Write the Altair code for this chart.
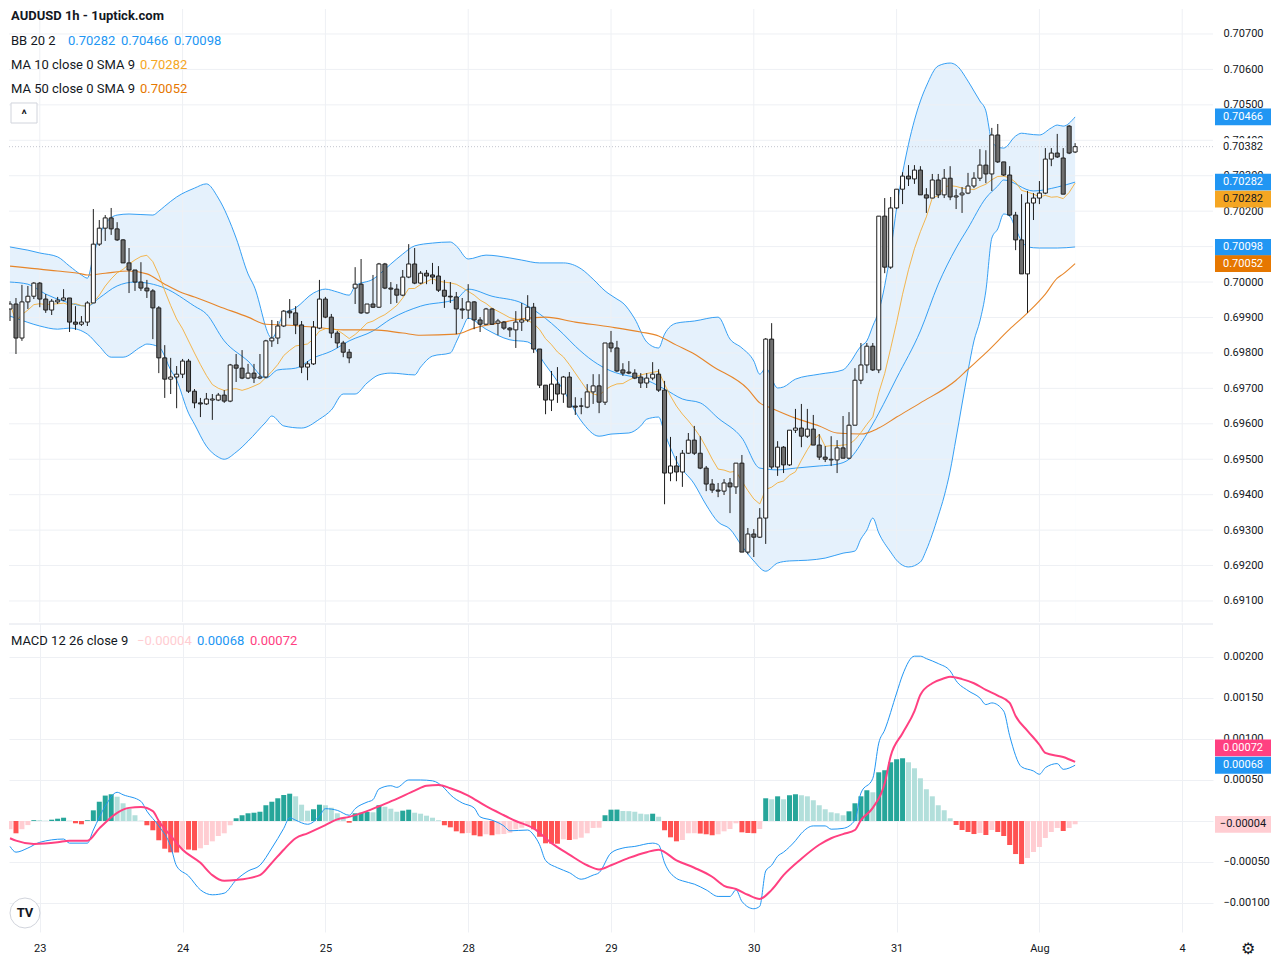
import altair as alt
import numpy as np
import pandas as pd

FONT = "Roboto"
TXT = "#131722"
GRID = "#eef0f4"
BLUE = "#2196f3"
PINK = "#ff4081"
MA10_COLOR = "#f5a623"
MA50_COLOR = "#e6801f"

W, H1, H2 = 1204, 613, 308
X_DOMAIN = [-4.333, 196.333]
PRICE_DOMAIN = [0.690407, 0.707705]
MACD_DOMAIN = [-0.0013537, 0.0024024]

# ---------------- data (hourly bars, index 0 = 23 Jul 00:00) ----------------
first_bar = -5
opens = [
    0.69924, 0.69938, 0.69842, 0.69944, 0.69960, 0.69997, 0.69952, 0.69921, 0.69944, 0.69949,
    0.69955, 0.69887, 0.69881, 0.69887, 0.69941, 0.70107, 0.70152, 0.70181, 0.70150, 0.70119,
    0.70054, 0.70034, 0.70000, 0.69983, 0.69975, 0.69927, 0.69786, 0.69726, 0.69732, 0.69740,
    0.69777, 0.69692, 0.69659, 0.69656, 0.69667, 0.69667, 0.69681, 0.69664, 0.69766, 0.69757,
    0.69729, 0.69743, 0.69729, 0.69732, 0.69834, 0.69842, 0.69876, 0.69918, 0.69913, 0.69879,
    0.69760, 0.69769, 0.69870, 0.69952, 0.69901, 0.69856, 0.69828, 0.69802, 0.69983, 0.69994,
    0.69913, 0.69938, 0.69929, 0.70051, 0.69983, 0.69980, 0.69963, 0.70014, 0.70051, 0.69997,
    0.70025, 0.70020, 0.70017, 0.69977, 0.69960, 0.69958, 0.69924, 0.69921, 0.69944, 0.69893,
    0.69881, 0.69924, 0.69884, 0.69887, 0.69870, 0.69865, 0.69887, 0.69893, 0.69929, 0.69811,
    0.69709, 0.69667, 0.69712, 0.69684, 0.69732, 0.69650, 0.69650, 0.69647, 0.69690, 0.69707,
    0.69661, 0.69828, 0.69814, 0.69752, 0.69746, 0.69743, 0.69732, 0.69715, 0.69729, 0.69740,
    0.69695, 0.69461, 0.69481, 0.69464, 0.69517, 0.69554, 0.69517, 0.69475, 0.69430, 0.69413,
    0.69410, 0.69433, 0.69422, 0.69489, 0.69238, 0.69289, 0.69280, 0.69334, 0.69839, 0.69478,
    0.69534, 0.69484, 0.69582, 0.69588, 0.69565, 0.69585, 0.69540, 0.69506, 0.69498, 0.69498,
    0.69532, 0.69503, 0.69596, 0.69723, 0.69766, 0.69819, 0.69752, 0.70186, 0.70042, 0.70209,
    0.70262, 0.70299, 0.70291, 0.70316, 0.70246, 0.70237, 0.70288, 0.70246, 0.70293, 0.70240,
    0.70246, 0.70251, 0.70271, 0.70293, 0.70330, 0.70305, 0.70415, 0.70339, 0.70302, 0.70189,
    0.70119, 0.70023, 0.70223, 0.70237, 0.70251, 0.70347, 0.70364, 0.70350, 0.70440, 0.70367,
]
highs = [
    0.69946, 0.69955, 0.69992, 0.69989, 0.70000, 0.70000, 0.69966, 0.69952, 0.69958, 0.69980,
    0.69955, 0.69932, 0.69904, 0.69946, 0.70206, 0.70175, 0.70189, 0.70209, 0.70169, 0.70121,
    0.70096, 0.70034, 0.70056, 0.70006, 0.69980, 0.69932, 0.69822, 0.69786, 0.69763, 0.69783,
    0.69783, 0.69698, 0.69673, 0.69687, 0.69684, 0.69687, 0.69695, 0.69769, 0.69797, 0.69808,
    0.69769, 0.69769, 0.69797, 0.69837, 0.69893, 0.69890, 0.69921, 0.69952, 0.69932, 0.69890,
    0.69777, 0.69890, 0.70006, 0.69958, 0.69910, 0.69862, 0.69834, 0.69811, 0.70042, 0.70065,
    0.69938, 0.70020, 0.70054, 0.70054, 0.70000, 0.69994, 0.70034, 0.70107, 0.70096, 0.70031,
    0.70034, 0.70054, 0.70045, 0.70006, 0.70000, 0.69972, 0.69955, 0.69994, 0.69946, 0.69901,
    0.69927, 0.69927, 0.69896, 0.69890, 0.69873, 0.69918, 0.69941, 0.69963, 0.69941, 0.69811,
    0.69709, 0.69749, 0.69760, 0.69735, 0.69746, 0.69675, 0.69673, 0.69712, 0.69740, 0.69740,
    0.69828, 0.69862, 0.69834, 0.69771, 0.69777, 0.69754, 0.69743, 0.69743, 0.69774, 0.69754,
    0.69721, 0.69563, 0.69509, 0.69526, 0.69574, 0.69594, 0.69565, 0.69481, 0.69444, 0.69433,
    0.69444, 0.69447, 0.69489, 0.69512, 0.69306, 0.69303, 0.69362, 0.69842, 0.69884, 0.69551,
    0.69537, 0.69582, 0.69642, 0.69656, 0.69642, 0.69625, 0.69571, 0.69537, 0.69565, 0.69554,
    0.69622, 0.69633, 0.69757, 0.69828, 0.69828, 0.69828, 0.70186, 0.70237, 0.70240, 0.70262,
    0.70310, 0.70330, 0.70330, 0.70327, 0.70265, 0.70305, 0.70305, 0.70319, 0.70327, 0.70262,
    0.70268, 0.70308, 0.70310, 0.70375, 0.70372, 0.70435, 0.70446, 0.70339, 0.70327, 0.70198,
    0.70248, 0.70257, 0.70251, 0.70285, 0.70378, 0.70378, 0.70418, 0.70378, 0.70443, 0.70392,
]
lows = [
    0.69890, 0.69797, 0.69834, 0.69924, 0.69952, 0.69929, 0.69913, 0.69907, 0.69938, 0.69946,
    0.69859, 0.69865, 0.69876, 0.69876, 0.69941, 0.70102, 0.70116, 0.70133, 0.70116, 0.70054,
    0.69969, 0.69975, 0.69975, 0.69955, 0.69839, 0.69743, 0.69673, 0.69684, 0.69644, 0.69729,
    0.69687, 0.69644, 0.69619, 0.69653, 0.69611, 0.69664, 0.69659, 0.69661, 0.69718, 0.69726,
    0.69726, 0.69715, 0.69726, 0.69729, 0.69817, 0.69825, 0.69873, 0.69898, 0.69853, 0.69743,
    0.69723, 0.69766, 0.69867, 0.69898, 0.69842, 0.69814, 0.69788, 0.69771, 0.69938, 0.69910,
    0.69910, 0.69927, 0.69927, 0.69980, 0.69938, 0.69941, 0.69960, 0.70011, 0.69994, 0.69994,
    0.69994, 0.69994, 0.69972, 0.69927, 0.69941, 0.69853, 0.69896, 0.69896, 0.69867, 0.69859,
    0.69879, 0.69879, 0.69850, 0.69865, 0.69845, 0.69814, 0.69862, 0.69887, 0.69800, 0.69701,
    0.69627, 0.69636, 0.69659, 0.69659, 0.69647, 0.69625, 0.69627, 0.69644, 0.69656, 0.69630,
    0.69653, 0.69802, 0.69746, 0.69735, 0.69740, 0.69726, 0.69701, 0.69701, 0.69723, 0.69690,
    0.69373, 0.69438, 0.69438, 0.69422, 0.69515, 0.69512, 0.69472, 0.69410, 0.69405, 0.69393,
    0.69399, 0.69348, 0.69402, 0.69238, 0.69232, 0.69224, 0.69278, 0.69261, 0.69472, 0.69453,
    0.69461, 0.69481, 0.69574, 0.69534, 0.69560, 0.69540, 0.69498, 0.69492, 0.69481, 0.69461,
    0.69503, 0.69500, 0.69596, 0.69712, 0.69743, 0.69749, 0.69743, 0.70025, 0.70037, 0.70206,
    0.70220, 0.70271, 0.70277, 0.70246, 0.70195, 0.70237, 0.70237, 0.70237, 0.70231, 0.70206,
    0.70195, 0.70248, 0.70265, 0.70285, 0.70279, 0.70257, 0.70336, 0.70299, 0.70186, 0.70090,
    0.70023, 0.69913, 0.70175, 0.70220, 0.70248, 0.70327, 0.70350, 0.70248, 0.70361, 0.70364,
]
closes = [
    0.69938, 0.69842, 0.69944, 0.69960, 0.69997, 0.69952, 0.69921, 0.69946, 0.69949, 0.69955,
    0.69887, 0.69881, 0.69887, 0.69941, 0.70107, 0.70152, 0.70181, 0.70150, 0.70119, 0.70054,
    0.70034, 0.70000, 0.69983, 0.69975, 0.69927, 0.69786, 0.69726, 0.69732, 0.69740, 0.69777,
    0.69692, 0.69659, 0.69656, 0.69670, 0.69670, 0.69681, 0.69664, 0.69766, 0.69757, 0.69729,
    0.69743, 0.69729, 0.69732, 0.69834, 0.69842, 0.69876, 0.69918, 0.69913, 0.69879, 0.69760,
    0.69769, 0.69873, 0.69952, 0.69901, 0.69856, 0.69828, 0.69802, 0.69786, 0.69994, 0.69913,
    0.69938, 0.69929, 0.70051, 0.69983, 0.69980, 0.69963, 0.70014, 0.70051, 0.69997, 0.70025,
    0.70017, 0.70014, 0.69977, 0.69960, 0.69958, 0.69924, 0.69921, 0.69944, 0.69893, 0.69881,
    0.69924, 0.69881, 0.69890, 0.69870, 0.69865, 0.69887, 0.69893, 0.69929, 0.69811, 0.69709,
    0.69667, 0.69712, 0.69684, 0.69732, 0.69647, 0.69647, 0.69650, 0.69690, 0.69707, 0.69661,
    0.69828, 0.69814, 0.69749, 0.69743, 0.69743, 0.69729, 0.69715, 0.69729, 0.69740, 0.69695,
    0.69461, 0.69481, 0.69464, 0.69517, 0.69554, 0.69517, 0.69475, 0.69430, 0.69413, 0.69410,
    0.69433, 0.69422, 0.69489, 0.69238, 0.69289, 0.69280, 0.69334, 0.69839, 0.69478, 0.69534,
    0.69484, 0.69582, 0.69588, 0.69565, 0.69585, 0.69540, 0.69506, 0.69500, 0.69500, 0.69532,
    0.69503, 0.69596, 0.69723, 0.69766, 0.69819, 0.69752, 0.70186, 0.70042, 0.70209, 0.70262,
    0.70299, 0.70291, 0.70316, 0.70246, 0.70237, 0.70288, 0.70246, 0.70293, 0.70240, 0.70243,
    0.70251, 0.70271, 0.70293, 0.70330, 0.70305, 0.70415, 0.70339, 0.70302, 0.70189, 0.70119,
    0.70023, 0.70223, 0.70237, 0.70251, 0.70347, 0.70364, 0.70353, 0.70248, 0.70364, 0.70382,
]
macd_hist = [
    -0.00010, -0.00015, -0.00010, -0.00005, 0.00001, 0.00001, 0.000004, 0.000016, 0.000028, 0.00004,
    0.000004, -0.000028, -0.00004, 0.000009, 0.00013, 0.000235, 0.00031, 0.000326, 0.000296, 0.000216,
    0.00015, 0.00007, 0.000004, -0.000052, -0.000113, -0.000235, -0.000338, -0.000382, -0.000384, -0.000345,
    -0.000348, -0.000357, -0.000333, -0.000293, -0.000248, -0.000183, -0.00015, -0.000052, 0.000033, 0.00007,
    0.000094, 0.000101, 0.000113, 0.000192, 0.000235, 0.000277, 0.000317, 0.000333, 0.000301, 0.000199,
    0.000126, 0.000143, 0.000199, 0.000192, 0.000162, 0.000094, 0.00004, -0.000021, 0.000094, 0.000101,
    0.00011, 0.000106, 0.000192, 0.000174, 0.00015, 0.000113, 0.000126, 0.000138, 0.000101, 0.000089,
    0.000065, 0.00004, 0.000009, -0.000052, -0.000077, -0.000126, -0.00015, -0.000146, -0.000174, -0.000187,
    -0.000162, -0.000174, -0.000162, -0.000159, -0.000143, -0.000101, -0.000082, -0.000052, -0.000101, -0.000192,
    -0.000272, -0.000275, -0.000277, -0.000223, -0.000232, -0.000223, -0.000204, -0.00015, -0.000085, -0.000082,
    0.00007, 0.000138, 0.000139, 0.000122, 0.00012, 0.000113, 0.000089, 0.000082, 0.000089, 0.000052,
    -0.000113, -0.000199, -0.000248, -0.000232, -0.00015, -0.000149, -0.000153, -0.000162, -0.000174, -0.000162,
    -0.000126, -0.000098, -0.000028, -0.000138, -0.000146, -0.000149, -0.000098, 0.000277, 0.000265, 0.000301,
    0.000265, 0.000314, 0.000326, 0.000314, 0.000301, 0.000253, 0.000192, 0.000143, 0.000106, 0.000094,
    0.00007, 0.000118, 0.000216, 0.000301, 0.000375, 0.00035, 0.000594, 0.000619, 0.000716, 0.000753,
    0.000765, 0.000716, 0.000643, 0.000521, 0.000387, 0.000301, 0.000192, 0.000131, 0.000033, -0.000049,
    -0.00011, -0.000134, -0.000159, -0.000146, -0.000171, -0.00011, -0.000134, -0.000183, -0.000293, -0.000403,
    -0.000525, -0.000451, -0.000378, -0.000317, -0.000207, -0.000134, -0.000085, -0.000122, -0.000085, -0.00004,
]

# indicator lines: (bar index, value)
bb_upper = [
    (-5, 0.70099), (-4, 0.70096), (-2, 0.70090), (0, 0.70082), (3, 0.70071), (5, 0.70045), (7, 0.70020),
    (8, 0.70011), (9, 0.70073), (10, 0.70130), (11, 0.70164), (13, 0.70189), (15, 0.70192), (19, 0.70189),
    (20, 0.70200), (21, 0.70214), (23, 0.70240), (26, 0.70265), (28, 0.70277), (30, 0.70237), (33, 0.70124),
    (35, 0.70023), (36, 0.69989), (39, 0.69842), (41, 0.69910), (43, 0.69927), (46, 0.69969), (48, 0.69980),
    (50, 0.69972), (52, 0.69963), (53, 0.69989), (56, 0.70008), (59, 0.70051), (61, 0.70079), (63, 0.70102),
    (66, 0.70110), (69, 0.70113), (70, 0.70102), (72, 0.70065), (75, 0.70076), (79, 0.70068), (81, 0.70062),
    (84, 0.70054), (88, 0.70054), (91, 0.70037), (93, 0.70008), (95, 0.69975), (97, 0.69952), (98, 0.69941),
    (100, 0.69896), (102, 0.69831), (104, 0.69814), (105, 0.69853), (107, 0.69884), (110, 0.69890),
    (114, 0.69901), (116, 0.69839), (118, 0.69814), (120, 0.69777), (121, 0.69740), (122, 0.69757),
    (124, 0.69701), (125, 0.69704), (127, 0.69726), (131, 0.69740), (135, 0.69752), (136, 0.69769),
    (138, 0.69819), (139, 0.69834), (140, 0.69876), (141, 0.69918), (143, 0.70088), (144, 0.70209),
    (146, 0.70389), (148, 0.70511), (149, 0.70553), (151, 0.70610), (153, 0.70618), (154, 0.70612),
    (156, 0.70567), (157, 0.70539), (158, 0.70511), (159, 0.70483), (160, 0.70398), (161, 0.70381),
    (162, 0.70378), (164, 0.70412), (165, 0.70420), (166, 0.70418), (168, 0.70415), (170, 0.70435),
    (171, 0.70443), (172, 0.70440), (174, 0.70466),
]
bb_basis = [
    (-5, 0.70000), (-2, 0.69994), (1, 0.69966), (4, 0.69946), (8, 0.69932), (10, 0.69955), (13, 0.69989),
    (16, 0.70000), (21, 0.69983), (26, 0.69932), (28, 0.69910), (31, 0.69834), (35, 0.69777), (38, 0.69729),
    (40, 0.69752), (43, 0.69757), (46, 0.69786), (49, 0.69805), (52, 0.69834), (56, 0.69862), (59, 0.69896),
    (64, 0.69932), (70, 0.69952), (72, 0.69980), (76, 0.69960), (81, 0.69941), (84, 0.69910), (88, 0.69853),
    (90, 0.69819), (93, 0.69777), (96, 0.69749), (99, 0.69735), (101, 0.69729), (105, 0.69698), (108, 0.69670),
    (111, 0.69659), (114, 0.69616), (118, 0.69560), (121, 0.69475), (124, 0.69470), (127, 0.69475),
    (131, 0.69481), (134, 0.69486), (136, 0.69500), (139, 0.69571), (141, 0.69630), (144, 0.69729),
    (148, 0.69862), (151, 0.69994), (154, 0.70096), (156, 0.70152), (159, 0.70237), (161, 0.70271),
    (162, 0.70288), (167, 0.70257), (171, 0.70268), (174, 0.70282),
]
bb_lower = [
    (-5, 0.69904), (-4, 0.69898), (0, 0.69876), (3, 0.69867), (5, 0.69870), (8, 0.69853), (10, 0.69819),
    (12, 0.69788), (14, 0.69788), (17, 0.69817), (18, 0.69825), (20, 0.69817), (22, 0.69752), (23, 0.69723),
    (25, 0.69630), (26, 0.69599), (28, 0.69537), (30, 0.69506), (31, 0.69500), (33, 0.69520), (35, 0.69551),
    (38, 0.69605), (39, 0.69622), (41, 0.69594), (44, 0.69588), (47, 0.69613), (49, 0.69639), (51, 0.69684),
    (53, 0.69684), (55, 0.69715), (57, 0.69738), (59, 0.69743), (63, 0.69738), (64, 0.69760), (66, 0.69791),
    (69, 0.69800), (70, 0.69831), (71, 0.69867), (72, 0.69898), (75, 0.69867), (79, 0.69837), (82, 0.69831),
    (85, 0.69766), (88, 0.69695), (91, 0.69608), (94, 0.69565), (96, 0.69571), (99, 0.69574), (101, 0.69594),
    (102, 0.69613), (104, 0.69619), (105, 0.69574), (107, 0.69495), (110, 0.69430), (112, 0.69371),
    (114, 0.69323), (116, 0.69303), (118, 0.69255), (120, 0.69213), (122, 0.69184), (124, 0.69207),
    (126, 0.69213), (129, 0.69215), (132, 0.69221), (135, 0.69235), (137, 0.69241), (138, 0.69275),
    (139, 0.69300), (140, 0.69334), (141, 0.69292), (143, 0.69238), (144, 0.69215), (146, 0.69196),
    (148, 0.69210), (149, 0.69244), (151, 0.69340), (152, 0.69396), (153, 0.69467), (154, 0.69560),
    (156, 0.69749), (157, 0.69834), (158, 0.69890), (159, 0.69975), (160, 0.70124), (161, 0.70150),
    (162, 0.70192), (163, 0.70186), (164, 0.70150), (165, 0.70116), (166, 0.70099), (168, 0.70096),
    (171, 0.70096), (174, 0.70099),
]
ma50 = [
    (-5, 0.70045), (3, 0.70031), (7, 0.70023), (8, 0.70020), (11, 0.70025), (15, 0.70031), (18, 0.70023),
    (21, 0.69994), (24, 0.69969), (26, 0.69958), (30, 0.69932), (35, 0.69901), (38, 0.69881), (41, 0.69879),
    (46, 0.69873), (51, 0.69865), (56, 0.69865), (61, 0.69856), (64, 0.69850), (70, 0.69853), (73, 0.69870),
    (77, 0.69884), (81, 0.69896), (85, 0.69901), (90, 0.69887), (96, 0.69873), (101, 0.69859), (104, 0.69848),
    (107, 0.69822), (110, 0.69797), (113, 0.69763), (119, 0.69698), (121, 0.69659), (123, 0.69644),
    (127, 0.69616), (131, 0.69594), (134, 0.69574), (138, 0.69571), (141, 0.69588), (144, 0.69619),
    (148, 0.69659), (154, 0.69723), (156, 0.69754), (159, 0.69800), (163, 0.69867), (166, 0.69913),
    (169, 0.69966), (171, 0.70011), (172, 0.70023), (174, 0.70052),
]
macd_line = [
    (-5, -0.00031), (-4, -0.00038), (-2, -0.00033), (0, -0.00026), (4, -0.00022), (5, -0.00027), (8, -0.00027),
    (9, -0.00011), (11, 0.00018), (13, 0.00035), (14, 0.00032), (17, 0.00024), (18, 0.00012), (20, -0.00006),
    (22, -0.00031), (23, -0.00055), (25, -0.00067), (27, -0.00084), (29, -0.00090), (31, -0.00088),
    (33, -0.00072), (35, -0.00061), (37, -0.00054), (39, -0.00033), (41, -0.00009), (42, 0.00004),
    (43, 0.00001), (45, -0.00004), (47, 0.00006), (48, 0.00015), (50, 0.00013), (52, 0.00007), (53, 0.00015),
    (55, 0.00023), (56, 0.00026), (57, 0.00039), (59, 0.00043), (60, 0.00041), (62, 0.00050), (64, 0.00050),
    (66, 0.00049), (68, 0.00040), (69, 0.00032), (71, 0.00022), (73, 0.00016), (74, 0.00005), (76, 0.00001),
    (78, -0.00006), (79, -0.00012), (82, -0.00011), (83, -0.00017), (84, -0.00029), (85, -0.00048),
    (87, -0.00057), (89, -0.00063), (91, -0.00071), (93, -0.00066), (94, -0.00063), (96, -0.00039),
    (98, -0.00033), (100, -0.00031), (103, -0.00027), (104, -0.00029), (105, -0.00051), (107, -0.00070),
    (108, -0.00073), (110, -0.00077), (112, -0.00084), (114, -0.00092), (116, -0.00092), (117, -0.00084),
    (118, -0.00098), (120, -0.00107), (121, -0.00104), (122, -0.00061), (123, -0.00054), (124, -0.00043),
    (125, -0.00038), (127, -0.00024), (128, -0.00015), (130, -0.00006), (132, -0.00006), (133, -0.00010),
    (135, -0.00009), (137, 0.00001), (138, 0.00034), (140, 0.00052), (141, 0.00095), (142, 0.00111),
    (144, 0.00156), (145, 0.00178), (147, 0.00201), (148, 0.00201), (149, 0.00198), (151, 0.00192),
    (153, 0.00183), (154, 0.00171), (156, 0.00159), (158, 0.00150), (159, 0.00142), (160, 0.00144),
    (162, 0.00134), (163, 0.00104), (165, 0.00066), (167, 0.00061), (168, 0.00057), (169, 0.00065),
    (171, 0.00070), (172, 0.00063), (174, 0.00068),
]
signal_line = [
    (-5, -0.00021), (-4, -0.00024), (-1, -0.00028), (3, -0.00026), (5, -0.00024), (8, -0.00024),
    (10, -0.00009), (13, 0.00010), (15, 0.00016), (17, 0.00017), (19, 0.00012), (20, 0.00000),
    (22, -0.00018), (24, -0.00035), (27, -0.00051), (29, -0.00066), (31, -0.00073), (33, -0.00072),
    (37, -0.00066), (39, -0.00051), (41, -0.00035), (43, -0.00021), (45, -0.00015), (48, -0.00005),
    (50, 0.00002), (52, 0.00005), (55, 0.00012), (57, 0.00018), (60, 0.00027), (63, 0.00037), (65, 0.00043),
    (67, 0.00044), (69, 0.00040), (72, 0.00031), (75, 0.00018), (78, 0.00007), (80, 0.00000), (83, -0.00009),
    (86, -0.00027), (89, -0.00041), (92, -0.00054), (94, -0.00059), (96, -0.00054), (99, -0.00045),
    (102, -0.00038), (104, -0.00035), (107, -0.00048), (110, -0.00057), (113, -0.00068), (115, -0.00079),
    (117, -0.00083), (119, -0.00090), (121, -0.00095), (123, -0.00084), (125, -0.00066), (128, -0.00046),
    (131, -0.00029), (133, -0.00021), (135, -0.00016), (137, -0.00011), (138, 0.00001), (140, 0.00016),
    (142, 0.00046), (143, 0.00079), (145, 0.00107), (147, 0.00134), (148, 0.00154), (150, 0.00168),
    (152, 0.00174), (153, 0.00176), (155, 0.00173), (157, 0.00168), (159, 0.00160), (161, 0.00153),
    (163, 0.00144), (164, 0.00128), (166, 0.00110), (168, 0.00093), (169, 0.00083), (172, 0.00078),
    (174, 0.00072),
]

tick_pos = [0, 24, 48, 72, 96, 120, 144, 168, 192]
tick_labels = ["23", "24", "25", "28", "29", "30", "31", "Aug", "4"]
price_ticks = [0.691, 0.692, 0.693, 0.694, 0.695, 0.696, 0.697, 0.698, 0.699,
               0.700, 0.701, 0.702, 0.703, 0.704, 0.705, 0.706, 0.707]
macd_ticks = [-0.001, -0.0005, 0.0, 0.0005, 0.001, 0.0015, 0.002]

n = len(closes)
assert len(opens) == n and len(highs) == n and len(lows) == n and len(macd_hist) == n, (
    len(opens), len(highs), len(lows), len(macd_hist), n)

# ---------------- tables ----------------
df = pd.DataFrame({"i": list(range(first_bar, first_bar + n)),
                   "o": opens, "h": highs, "l": lows, "c": closes, "hv": macd_hist})
df["body"] = np.where(df["c"] >= df["o"], "#ffffff", "#6f6f6f")
df["ma10"] = df["c"].rolling(10, min_periods=1).mean()
df["zero"] = 0.0
hv = df["hv"]
prev = hv.shift(1).fillna(hv)
df["hcol"] = np.select([(hv >= 0) & (hv > prev), hv >= 0, hv < prev],
                       ["#26a69a", "#b2dfdb", "#ff5252"], "#ffcdd2")


def pairs(p):
    return pd.DataFrame({"i": [a for a, _ in p], "v": [b for _, b in p]})


xs = alt.Scale(domain=X_DOMAIN, nice=False, zero=False)
ps = alt.Scale(domain=PRICE_DOMAIN, nice=False, zero=False)
ms = alt.Scale(domain=MACD_DOMAIN, nice=False, zero=False)

p_axis = alt.Axis(orient="right", values=price_ticks, format=".5f", grid=False, ticks=False, domain=False,
                  labelFont=FONT, labelFontSize=11, labelColor=TXT, labelPadding=10, labelFlush=False, title=None)
m_axis = alt.Axis(orient="right", values=macd_ticks, format=".5f", grid=True, gridColor=GRID, ticks=False,
                  domain=False, labelFont=FONT, labelFontSize=11, labelColor=TXT, labelPadding=10,
                  labelFlush=False, title=None)
label_expr = " : ".join(f"datum.value == {p} ? '{l}'" for p, l in zip(tick_pos, tick_labels)) + " : ''"
x_axis = alt.Axis(values=tick_pos, labelExpr=label_expr, grid=True, gridColor=GRID, ticks=False, domain=False,
                  labelFont=FONT, labelFontSize=11, labelColor=TXT, labelPadding=10, labelFlush=False,
                  labelAngle=0, title=None)


def PX(f="i"):
    return alt.X(f"{f}:Q", scale=xs, axis=None)


def PY(f):
    return alt.Y(f"{f}:Q", scale=ps, axis=p_axis)


def MX(f="i"):
    return alt.X(f"{f}:Q", scale=xs, axis=x_axis)


def MY(f):
    return alt.Y(f"{f}:Q", scale=ms, axis=m_axis)


def label(text, x, y, color=TXT, size=13, weight="normal", align="left"):
    return alt.Chart(pd.DataFrame({"t": [text]})).mark_text(
        align=align, baseline="middle", font=FONT, fontSize=size, fontWeight=weight, color=color
    ).encode(x=alt.value(x), y=alt.value(y), text="t:N")


TAG_PATH = "M-1,-0.30L1,-0.30L1,0.30L-1,0.30Z"


def tag(value, text, bg, fg, dy, yenc):
    d = alt.Chart(pd.DataFrame({"v": [value], "t": [text]}))
    box = d.mark_point(shape=TAG_PATH, size=56 * 56, filled=True, color=bg, opacity=1,
                       strokeWidth=0, yOffset=dy).encode(x=alt.value(W + 30), y=yenc("v"))
    txt = d.mark_text(font=FONT, fontSize=11, color=fg, yOffset=dy, align="center",
                      baseline="middle").encode(x=alt.value(W + 30), y=yenc("v"), text="t:N")
    return [box, txt]


# ---------------- price pane ----------------
up_fill = alt.Chart(pairs(bb_upper)).mark_area(color="#e5f1fc", interpolate="monotone", clip=True).encode(
    x=PX(), y=PY("v"), y2=alt.value(H1))
lo_fill = alt.Chart(pairs(bb_lower)).mark_area(color="#ffffff", interpolate="monotone", clip=True).encode(
    x=PX(), y=PY("v"), y2=alt.value(H1))
hgrid = alt.Chart(pd.DataFrame({"p": price_ticks})).mark_rule(color=GRID, strokeWidth=1).encode(y=PY("p"))
vgrid = alt.Chart(pd.DataFrame({"t": tick_pos})).mark_rule(color=GRID, strokeWidth=1).encode(x=PX("t"))


def pline(p, color, width=1.0, opacity=1.0):
    return alt.Chart(pairs(p)).mark_line(color=color, strokeWidth=width, opacity=opacity,
                                         interpolate="monotone", clip=True).encode(x=PX(), y=PY("v"))


up_line = pline(bb_upper, BLUE, 1, 0.9)
mid_line = pline(bb_basis, BLUE, 1, 0.9)
lo_line = pline(bb_lower, BLUE, 1, 0.9)
ma50_line = pline(ma50, MA50_COLOR, 1.1, 0.95)
ma10_line = alt.Chart(df).mark_line(color=MA10_COLOR, strokeWidth=1, opacity=0.8, clip=True).encode(
    x=PX(), y=PY("ma10"))
last_line = alt.Chart(pd.DataFrame({"p": [closes[-1]]})).mark_rule(
    color="#c3c6ce", strokeDash=[1, 2], strokeWidth=1).encode(y=PY("p"))
wicks = alt.Chart(df).mark_rule(color="#1e1e1e", strokeWidth=1, clip=True).encode(
    x=PX(), y=PY("l"), y2="h:Q")
bodies = alt.Chart(df).mark_bar(size=4, stroke="#1e1e1e", strokeWidth=1, clip=True).encode(
    x=PX(), y=PY("o"), y2="c:Q", color=alt.Color("body:N", scale=None))

price_layers = [up_fill, lo_fill, hgrid, vgrid, up_line, mid_line, lo_line, ma50_line, ma10_line,
                last_line, wicks, bodies]
price_layers += tag(0.70466, "0.70466", BLUE, "#ffffff", 0, PY)
price_layers += tag(0.70382, "0.70382", "#ffffff", TXT, 0, PY)
price_layers += tag(0.70282, "0.70282", BLUE, "#ffffff", 0, PY)
price_layers += tag(0.70282, "0.70282", "#f5a623", TXT, 17, PY)
price_layers += tag(0.70098, "0.70098", BLUE, "#ffffff", 0, PY)
price_layers += tag(0.70052, "0.70052", "#e67700", "#ffffff", 0, PY)

BTN_PATH = "M-1,-0.77L1,-0.77L1,0.77L-1,0.77Z"
button = alt.Chart(pd.DataFrame({"a": [0]})).mark_point(
    shape=BTN_PATH, size=26 * 26, filled=True, fill="#ffffff", stroke="#d1d4dc", strokeWidth=1, opacity=1
).encode(x=alt.value(15), y=alt.value(104))

price_layers += [
    label("AUDUSD 1h - 1uptick.com", 2, 7, weight="bold"),
    label("BB 20 2", 2, 32),
    label("0.70282", 59, 32, BLUE), label("0.70466", 112, 32, BLUE), label("0.70098", 165, 32, BLUE),
    label("MA 10 close 0 SMA 9", 2, 56), label("0.70282", 131, 56, MA10_COLOR),
    label("MA 50 close 0 SMA 9", 2, 80), label("0.70052", 131, 80, "#e67700"),
    button, label("^", 15, 106, size=12, weight="bold", align="center"),
]
price = alt.layer(*price_layers).properties(width=W, height=H1)

# ---------------- MACD pane ----------------
sep = alt.Chart(pd.DataFrame({"a": [0]})).mark_rule(color="#e0e3eb", strokeWidth=1).encode(y=alt.value(0))
hist_bars = alt.Chart(df).mark_bar(size=5, clip=True).encode(
    x=MX(), y=MY("hv"), y2="zero:Q", color=alt.Color("hcol:N", scale=None))
macd_l = alt.Chart(pairs(macd_line)).mark_line(color=BLUE, strokeWidth=1, interpolate="monotone",
                                                clip=True).encode(x=MX(), y=MY("v"))
sig_l = alt.Chart(pairs(signal_line)).mark_line(color=PINK, strokeWidth=2, interpolate="monotone",
                                                clip=True).encode(x=MX(), y=MY("v"))
logo = alt.Chart(pd.DataFrame({"a": [0]})).mark_point(
    shape="circle", size=900, filled=True, fill="#ffffff", stroke="#d1d4dc", strokeWidth=1, opacity=1
).encode(x=alt.value(16), y=alt.value(289))

macd_layers = [sep, hist_bars, macd_l, sig_l]
macd_layers += tag(0.00072, "0.00072", PINK, "#ffffff", -14, MY)
macd_layers += tag(0.00068, "0.00068", BLUE, "#ffffff", 0, MY)
macd_layers += tag(-0.00004, "\u22120.00004", "#ffcdd2", TXT, 0, MY)
macd_layers += [
    label("MACD 12 26 close 9", 2, 17),
    label("\u22120.00004", 128, 17, "#ffcdd2"),
    label("0.00068", 188, 17, BLUE),
    label("0.00072", 241, 17, PINK),
    logo, label("TV", 16, 289, size=13, weight="bold", align="center"),
    label("\u2699", 1239, 325, size=16, align="center"),
]
macd = alt.layer(*macd_layers).properties(width=W, height=H2)

chart = alt.vconcat(price, macd, spacing=0, padding=0, background="#ffffff").resolve_scale(
    x="independent", y="independent", color="independent"
).configure_view(stroke=None)

chart.save("out.html", embed_options={"renderer": "svg", "actions": False})
